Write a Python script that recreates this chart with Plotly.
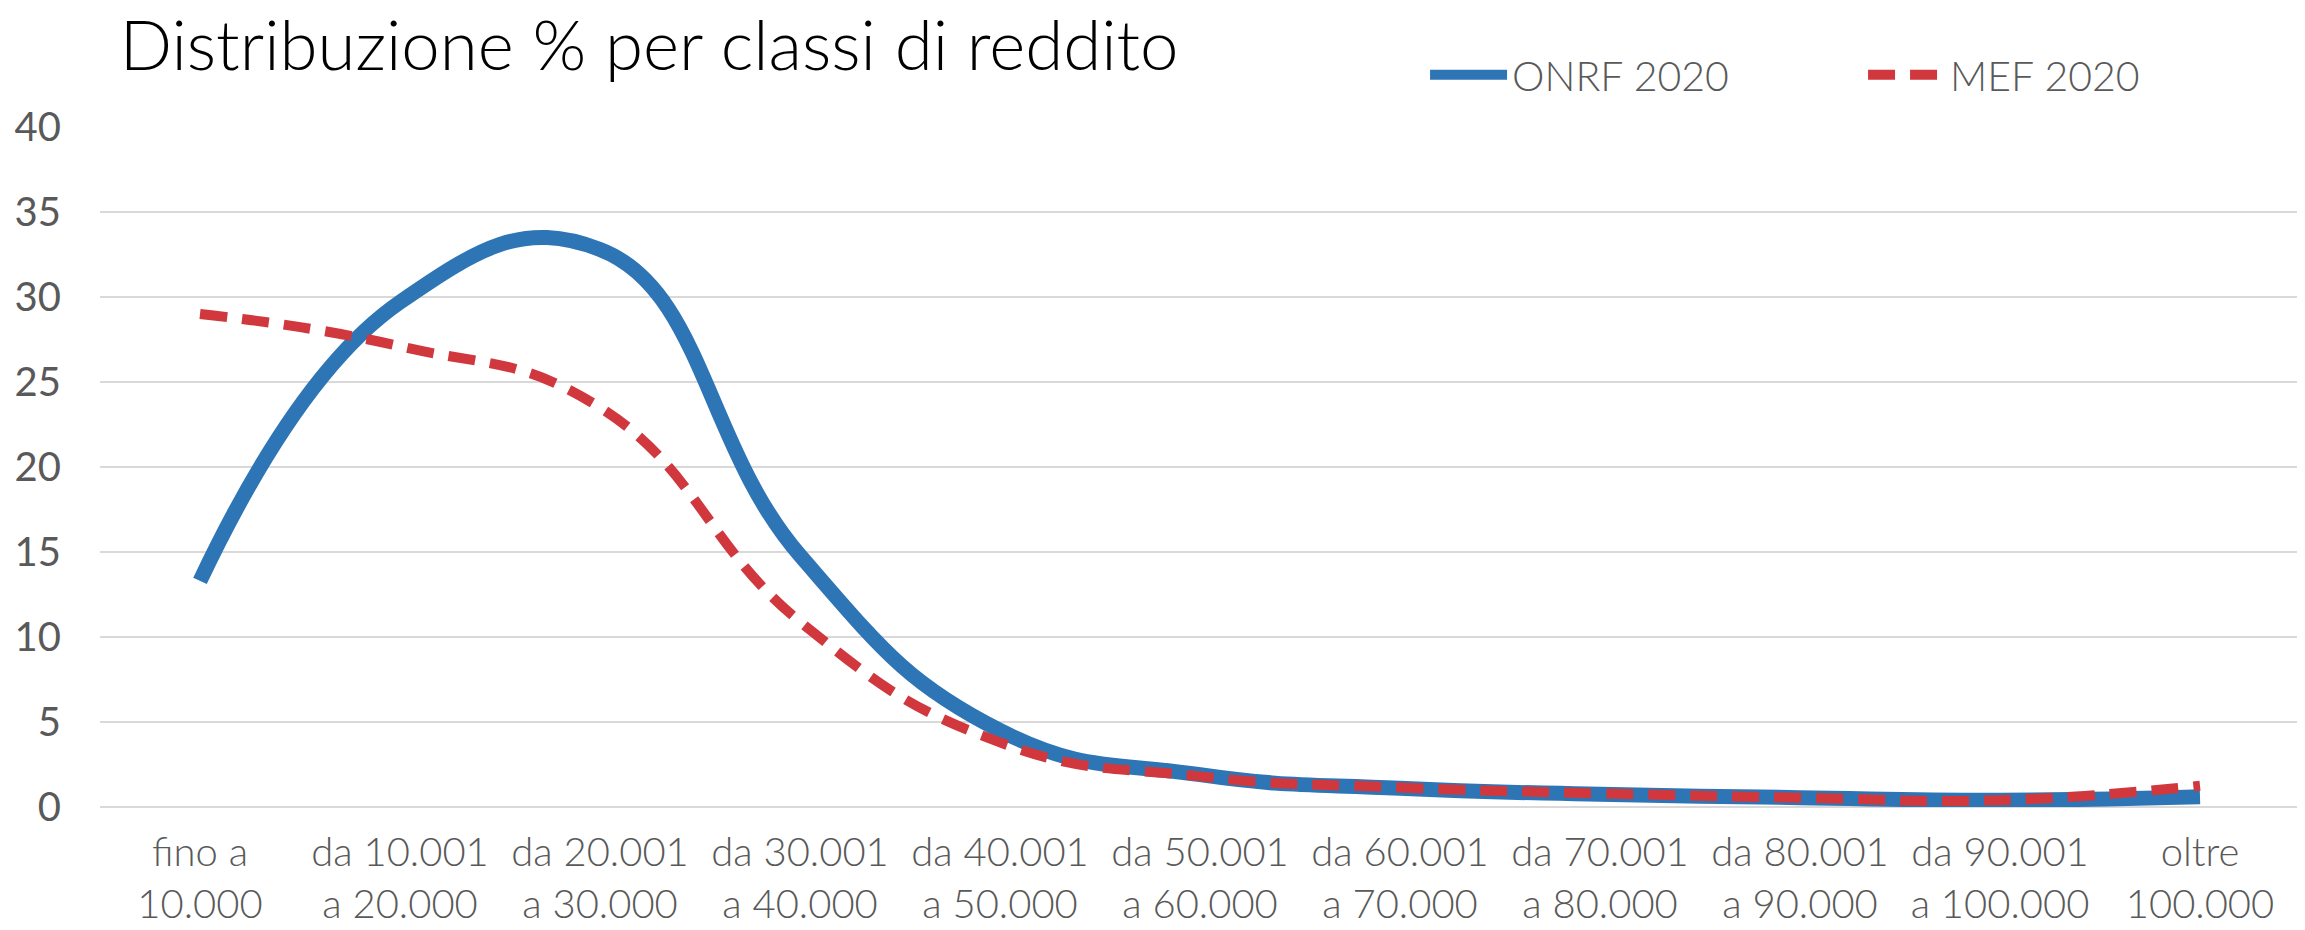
import plotly.graph_objects as go

categorie = [
    "fino a<br>10.000", "da 10.001<br>a 20.000", "da 20.001<br>a 30.000",
    "da 30.001<br>a 40.000", "da 40.001<br>a 50.000", "da 50.001<br>a 60.000",
    "da 60.001<br>a 70.000", "da 70.001<br>a 80.000", "da 80.001<br>a 90.000",
    "da 90.001<br>a 100.000", "oltre<br>100.000",
]
onrf_2020 = [13.3, 29.7, 32.8, 14.8, 4.5, 1.9, 1.1, 0.75, 0.55, 0.4, 0.6]
mef_2020 = [29.0, 27.1, 23.5, 10.9, 3.8, 1.8, 1.15, 0.8, 0.55, 0.4, 1.25]
y_ticks = [0, 5, 10, 15, 20, 25, 30, 35, 40]

FONT = "Lato, Carlito, Calibri, sans-serif"
GREY = "#595959"

fig = go.Figure()
fig.add_trace(go.Scatter(
    x=categorie, y=onrf_2020, name="ONRF 2020", mode="lines",
    line=dict(color="#2E75B6", width=15, shape="spline", smoothing=1.3),
))
fig.add_trace(go.Scatter(
    x=categorie, y=mef_2020, name="MEF 2020", mode="lines",
    line=dict(color="#D0383E", width=10, shape="spline", smoothing=1.3,
              dash="27px,15px"),
))

fig.update_layout(
    width=2305, height=930,
    margin=dict(l=92, r=13, t=119, b=131, autoexpand=False),
    paper_bgcolor="white", plot_bgcolor="white",
    font=dict(family=FONT, color=GREY, size=40),
    title=dict(text="Distribuzione % per classi di reddito",
               x=0.0485, xanchor="left", y=0.959, yanchor="middle",
               font=dict(family=FONT, size=69, color="#000000", weight=300)),
    showlegend=True,
    legend=dict(orientation="h", x=0.6023, xanchor="left", y=1.0764, yanchor="middle",
                font=dict(family=FONT, size=41, color=GREY, weight=300),
                entrywidth=346, entrywidthmode="pixels", itemwidth=77,
                bgcolor="rgba(0,0,0,0)"),
    xaxis=dict(range=[-0.5, 10.5], showgrid=False, showline=False, ticks="",
               tickangle=0, automargin=False, ticklabelstandoff=18,
               tickfont=dict(family=FONT, size=40, color=GREY, weight=300),
               zeroline=False),
    yaxis=dict(range=[0, 40], tickvals=y_ticks, showgrid=True, gridcolor="#D9D9D9",
               gridwidth=2, zeroline=True, zerolinecolor="#D9D9D9", zerolinewidth=2,
               showline=False, ticks="", ticklabelstandoff=38, automargin=False,
               tickfont=dict(family=FONT, size=40, color=GREY)),
)

fig.write_html("out.html")
